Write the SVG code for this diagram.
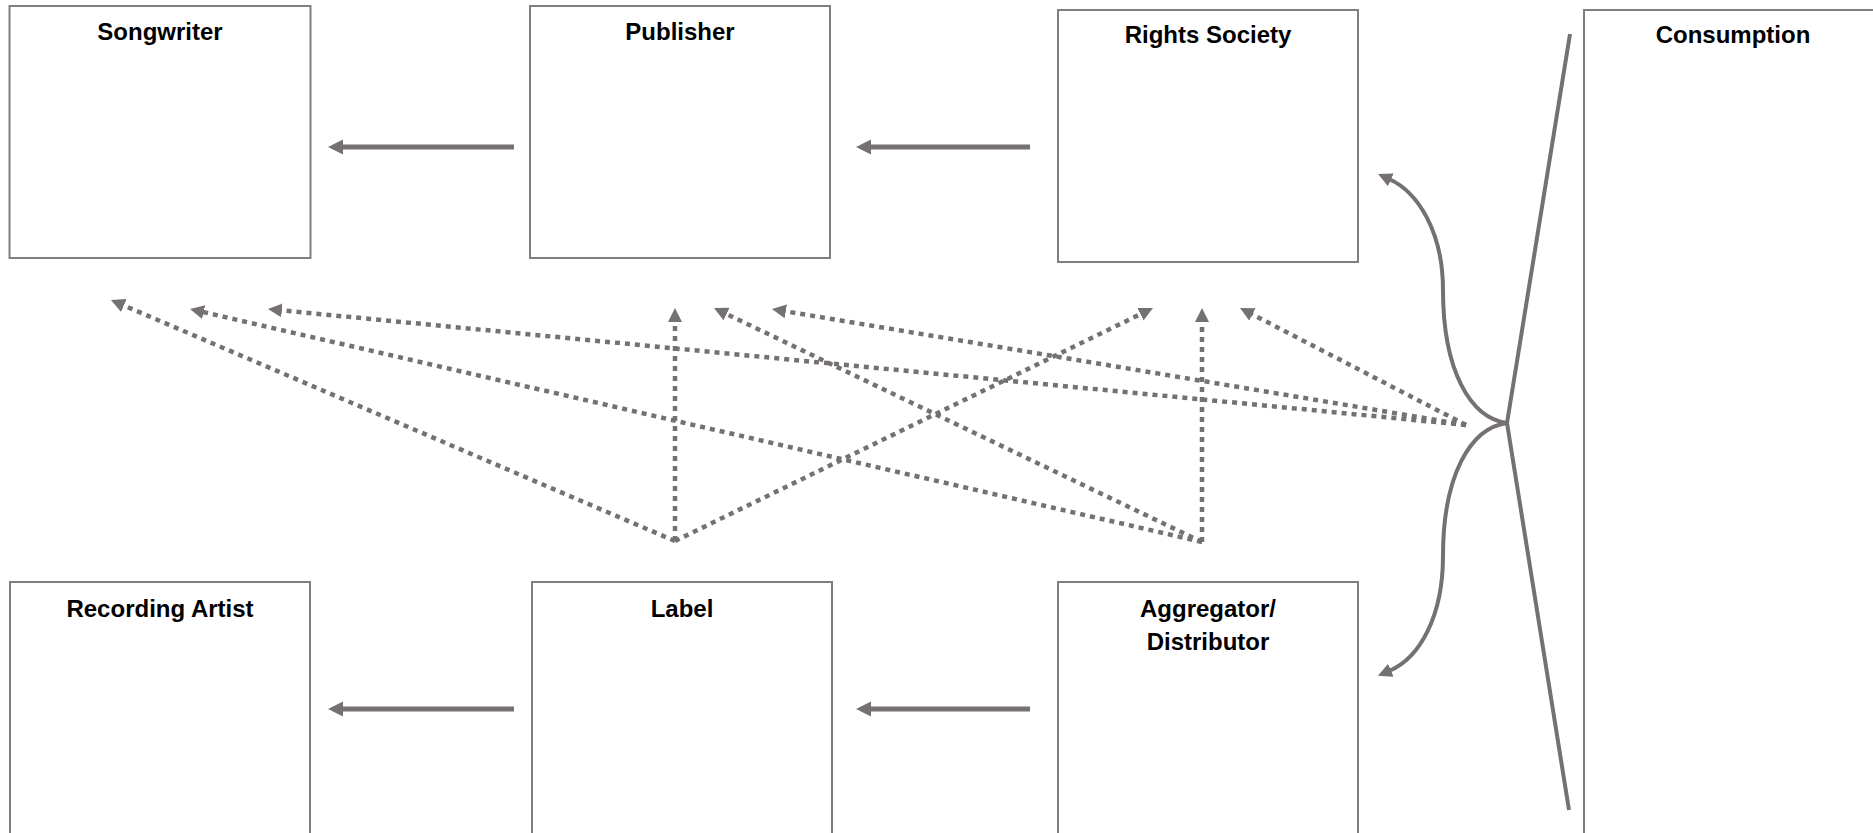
<svg xmlns="http://www.w3.org/2000/svg" width="1873" height="833" viewBox="0 0 1873 833">
<style>
.box{fill:#ffffff;stroke:#7f7f7f;stroke-width:2}
.lbl{font-family:"Liberation Sans",Arial,sans-serif;font-weight:bold;font-size:24px;fill:#000000;text-anchor:middle}
.solid{fill:none;stroke:#767171;stroke-width:5}
.curve{fill:none;stroke:#767171;stroke-width:4}
.dot{fill:none;stroke:#767171;stroke-width:4.5;stroke-dasharray:5 5}
</style>
<defs>
<marker id="head" markerUnits="userSpaceOnUse" markerWidth="16" markerHeight="16" refX="1" refY="7.5" orient="auto">
<path d="M0,0 L15,7.5 L0,15 z" fill="#767171"/>
</marker>
<marker id="headc" markerUnits="userSpaceOnUse" markerWidth="16" markerHeight="16" refX="2" refY="7" orient="auto">
<path d="M0,0 L14,7 L0,14 z" fill="#767171"/>
</marker>
<marker id="headd" markerUnits="userSpaceOnUse" markerWidth="16" markerHeight="16" refX="2" refY="7" orient="auto">
<path d="M0,0 L14,7 L0,14 z" fill="#767171"/>
</marker>
</defs>
<g id="songwriter"><rect class="box" x="9.5" y="6" width="301" height="252"/><text class="lbl" x="160" y="40">Songwriter</text></g>
<g id="publisher"><rect class="box" x="530" y="6" width="300" height="252"/><text class="lbl" x="680" y="40">Publisher</text></g>
<g id="rights-society"><rect class="box" x="1058" y="10" width="300" height="252"/><text class="lbl" x="1208" y="43">Rights Society</text></g>
<g id="consumption"><rect class="box" x="1584" y="10" width="300" height="840"/><text class="lbl" x="1733" y="43">Consumption</text></g>
<g id="recording-artist"><rect class="box" x="10" y="582" width="300" height="260"/><text class="lbl" x="160" y="617">Recording Artist</text></g>
<g id="label"><rect class="box" x="532" y="582" width="300" height="260"/><text class="lbl" x="682" y="617">Label</text></g>
<g id="aggregator"><rect class="box" x="1058" y="582" width="300" height="260"/><text class="lbl" x="1208" y="617">Aggregator/</text><text class="lbl" x="1208" y="650">Distributor</text></g>
<g id="connectors">
<line class="solid" x1="514" y1="147" x2="342" y2="147" marker-end="url(#head)"/>
<line class="solid" x1="1030" y1="147" x2="870" y2="147" marker-end="url(#head)"/>
<line class="solid" x1="514" y1="709" x2="342" y2="709" marker-end="url(#head)"/>
<line class="solid" x1="1030" y1="709" x2="870" y2="709" marker-end="url(#head)"/>
<polyline class="curve" points="1570,34 1507,423 1569,810"/>
<path class="curve" d="M1507,423 C1470,418 1443,370 1443,290 C1443,232 1418,192 1389,179" marker-end="url(#headc)"/>
<path class="curve" d="M1507,423 C1470,428 1443,476 1443,556 C1443,616 1420,658 1389,671" marker-end="url(#headc)"/>
<line class="dot" x1="675" y1="541" x2="122" y2="304.7" marker-end="url(#headd)"/>
<line class="dot" x1="675" y1="541" x2="675" y2="320" marker-end="url(#headd)"/>
<line class="dot" x1="675" y1="541" x2="1142.2" y2="313.3" marker-end="url(#headd)"/>
<line class="dot" x1="1202" y1="542" x2="201.7" y2="311.7" marker-end="url(#headd)"/>
<line class="dot" x1="1202" y1="542" x2="724.8" y2="313.2" marker-end="url(#headd)"/>
<line class="dot" x1="1202" y1="542" x2="1202" y2="320" marker-end="url(#headd)"/>
<line class="dot" x1="1466" y1="425" x2="279.9" y2="310.2" marker-end="url(#headd)"/>
<line class="dot" x1="1466" y1="425" x2="783.8" y2="311" marker-end="url(#headd)"/>
<line class="dot" x1="1466" y1="425" x2="1250.7" y2="313.5" marker-end="url(#headd)"/>
</g>
</svg>
